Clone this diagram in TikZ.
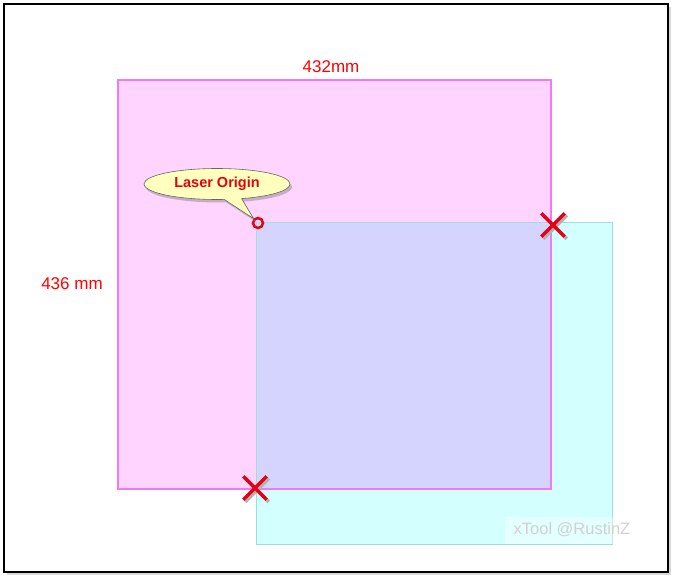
\documentclass[tikz,border=0pt]{standalone}
\usepackage{fontspec}
\setmainfont{Liberation Sans}
\usetikzlibrary{shapes.geometric, shapes.callouts, shapes.misc, shadows, positioning}

\definecolor{bedpink}{RGB}{255,212,255}
\definecolor{bededge}{RGB}{240,120,250}
\definecolor{workcyan}{RGB}{212,255,255}
\definecolor{workedge}{RGB}{160,222,222}
\definecolor{overlap}{RGB}{212,212,255}
\definecolor{tagfill}{RGB}{255,255,190}
\definecolor{markred}{RGB}{230,0,20}

\tikzset{
    dimlabel/.style={text=red, font=\fontsize{17}{19}\selectfont, inner sep=1pt},
    xmark/.style={cross out, draw=markred, line width=3.3pt, minimum size=20pt, inner sep=0pt},
    xshade/.style={cross out, draw=black!30, line width=3.6pt, minimum size=20pt, inner sep=0pt, xshift=2pt, yshift=-2pt}
}

\begin{document}
\begin{tikzpicture}[x=1pt, y=-1pt]
        \useasboundingbox (0,0) rectangle (674,578);

        % outer frame
        \fill[black!15] (7,7) rectangle (671,575);
        \draw[fill=white, line width=1.2pt] (4,4) rectangle (668,572);

        % bed and work area
        \fill[bedpink] (118,80) rectangle (551,489);
        \fill[workcyan] (256,222) rectangle (612,544);
        \fill[overlap] (256,222) rectangle (551,489);
        \draw[workedge, line width=0.8pt] (256,222) rectangle (612,544);
        \draw[bededge, line width=1.5pt] (118,80) rectangle (551,489);

        % sizes
        \node[dimlabel] (width) at (331,67) {432mm};
        \node[dimlabel] (height) at (72,284) {436 mm};

        % origin and callout
        \node[circle, draw=markred, line width=2.5pt, minimum size=10pt, inner sep=0pt] (origin) at (258,223) {};
        \node[ellipse callout, callout absolute pointer=(origin.north west),
            callout pointer arc=14, fill=tagfill, draw=black!60, line width=0.6pt,
            minimum width=146pt, minimum height=31pt, inner sep=0pt,
            drop shadow={shadow xshift=2pt, shadow yshift=-3pt, opacity=0.45},
            text=markred, font=\bfseries\fontsize{14.5}{16}\selectfont] (tag) at (217,184) {Laser Origin};

        % corners
        \foreach \name/\pos in {corner1/{(553,225)}, corner2/{(255,488)}} {
            \node[xshade] at \pos {};
            \node[xmark] (\name) at \pos {};
        }

        % watermark
        \node[fill=white, fill opacity=0.35, text opacity=1, text=black!18,
            font=\fontsize{16.5}{18}\selectfont, minimum width=134pt, minimum height=27pt] (mark) at (572,530) {xTool @RustinZ};
\end{tikzpicture}
\end{document}
